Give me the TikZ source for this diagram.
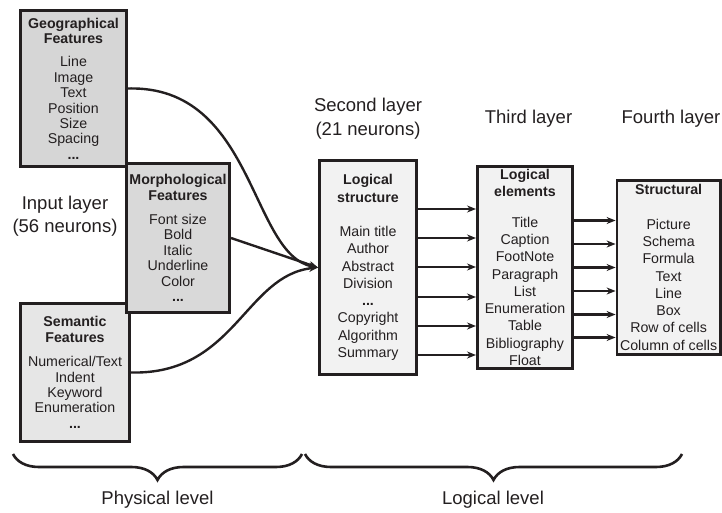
\documentclass[tikz,border=0pt]{standalone}
\usepackage{fontspec}
\setmainfont{Liberation Sans}
\usetikzlibrary{arrows.meta,decorations.pathreplacing}
\definecolor{inkgray}{HTML}{231F20}
\definecolor{geofill}{HTML}{D6D6D6}
\definecolor{morphfill}{HTML}{D9D9D9}
\definecolor{semfill}{HTML}{E6E6E6}
\definecolor{layerfill}{HTML}{F2F2F2}
\begin{document}
\begin{tikzpicture}
[x=1pt,y=-1pt,
  featuredecorate/.style={shape=rectangle,draw=inkgray,line width=2.8pt,align=center,inner sep=0pt,text=inkgray,font=\fontsize{14.2}{15.4}\selectfont},%
  layerdecorate/.style={shape=rectangle,draw=inkgray,line width=2.8pt,fill=layerfill,align=center,inner sep=0pt,text=inkgray,font=\fontsize{14.2}{17.3}\selectfont},
  labeldecorate/.style={align=center,text=inkgray,font=\fontsize{18.5}{23.5}\selectfont},
  linkdecorate/.style={-{Stealth[length=9pt,width=7pt]},line width=2.4pt,draw=inkgray},
  bracedecorate/.style={decorate,decoration={brace,mirror,amplitude=26pt},line width=2.6pt,draw=inkgray}]
\useasboundingbox (0,0) rectangle (722,513);
%% input layer
\node (geo) at (73.5,88.5) [featuredecorate,fill=geofill,minimum width=106.2pt,minimum height=156.2pt]
  {\textbf{Geographical}\\\textbf{Features}\\[8pt]Line\\Image\\Text\\Position\\Size\\Spacing\\\textbf{...}};
\node (sem) at (75,372.5) [featuredecorate,fill=semfill,minimum width=109.2pt,minimum height=138.2pt]
  {\textbf{Semantic}\\\textbf{Features}\\[9pt]Numerical/Text\\Indent\\Keyword\\Enumeration\\\textbf{...}};
\node (morph) at (178,238) [featuredecorate,fill=morphfill,minimum width=103.2pt,minimum height=149.2pt]
  {\textbf{Morphological}\\\textbf{Features}\\[9pt]Font size\\Bold\\Italic\\Underline\\Color\\\textbf{...}};
%% hidden layers and output
\node (lstruct) at (368,267.5) [layerdecorate,minimum width=97.2pt,minimum height=214.2pt]
  {\textbf{Logical}\\\textbf{structure}\\[17pt]Main title\\Author\\Abstract\\Division\\\textbf{...}\\Copyright\\Algorithm\\Summary};
\node (lelem) at (525,267.5) [layerdecorate,minimum width=95.2pt,minimum height=202.2pt]
  {\textbf{Logical}\\\textbf{elements}\\[13pt]Title\\Caption\\FootNote\\Paragraph\\List\\Enumeration\\Table\\Bibliography\\Float};
\node (struct) at (668.6,267.5) [layerdecorate,minimum width=103.2pt,minimum height=173.2pt]
  {\textbf{Structural}\\[17pt]Picture\\Schema\\Formula\\Text\\Line\\Box\\Row of cells\\Column of cells};
%% layer titles
\node (inputlabel) at (65,216) [labeldecorate] {Input layer\\(56 neurons)};
\node (secondlabel) at (368,118.5) [labeldecorate] {Second layer\\(21 neurons)};
\node (thirdlabel) at (528.5,119) [labeldecorate] {Third layer};
\node (fourthlabel) at (671,119) [labeldecorate] {Fourth layer};
%% links
\draw[linkdecorate] (geo.east) .. controls (255,85) and (250,255) .. (lstruct.west);
\draw[linkdecorate] (morph.east) -- (lstruct.west);
\draw[linkdecorate] (sem.east) .. controls (235,375) and (245,275) .. (lstruct.west);
\foreach \dy in {58.5,29.5,0.5,-29.5,-58.5,-87.5} {
  \draw[linkdecorate] ([yshift=\dy pt]lstruct.east) -- ([yshift=\dy pt]lelem.west);
}
\foreach \dy in {47,23.5,0,-23.5,-47,-70} {
  \draw[linkdecorate] ([yshift=\dy pt]lelem.east) -- ([yshift=\dy pt]struct.west);
}
%% levels
\coordinate (physleft) at (13,454);
\coordinate (physright) at (302,454);
\coordinate (logleft) at (305,454);
\coordinate (logright) at (682,454);
\draw[bracedecorate] (physleft) -- (physright);
\draw[bracedecorate] (logleft) -- (logright);
\node (physlabel) at (157.5,500) [labeldecorate] {Physical level};
\node (loglabel) at (493,500) [labeldecorate] {Logical level};
\end{tikzpicture}
\end{document}
